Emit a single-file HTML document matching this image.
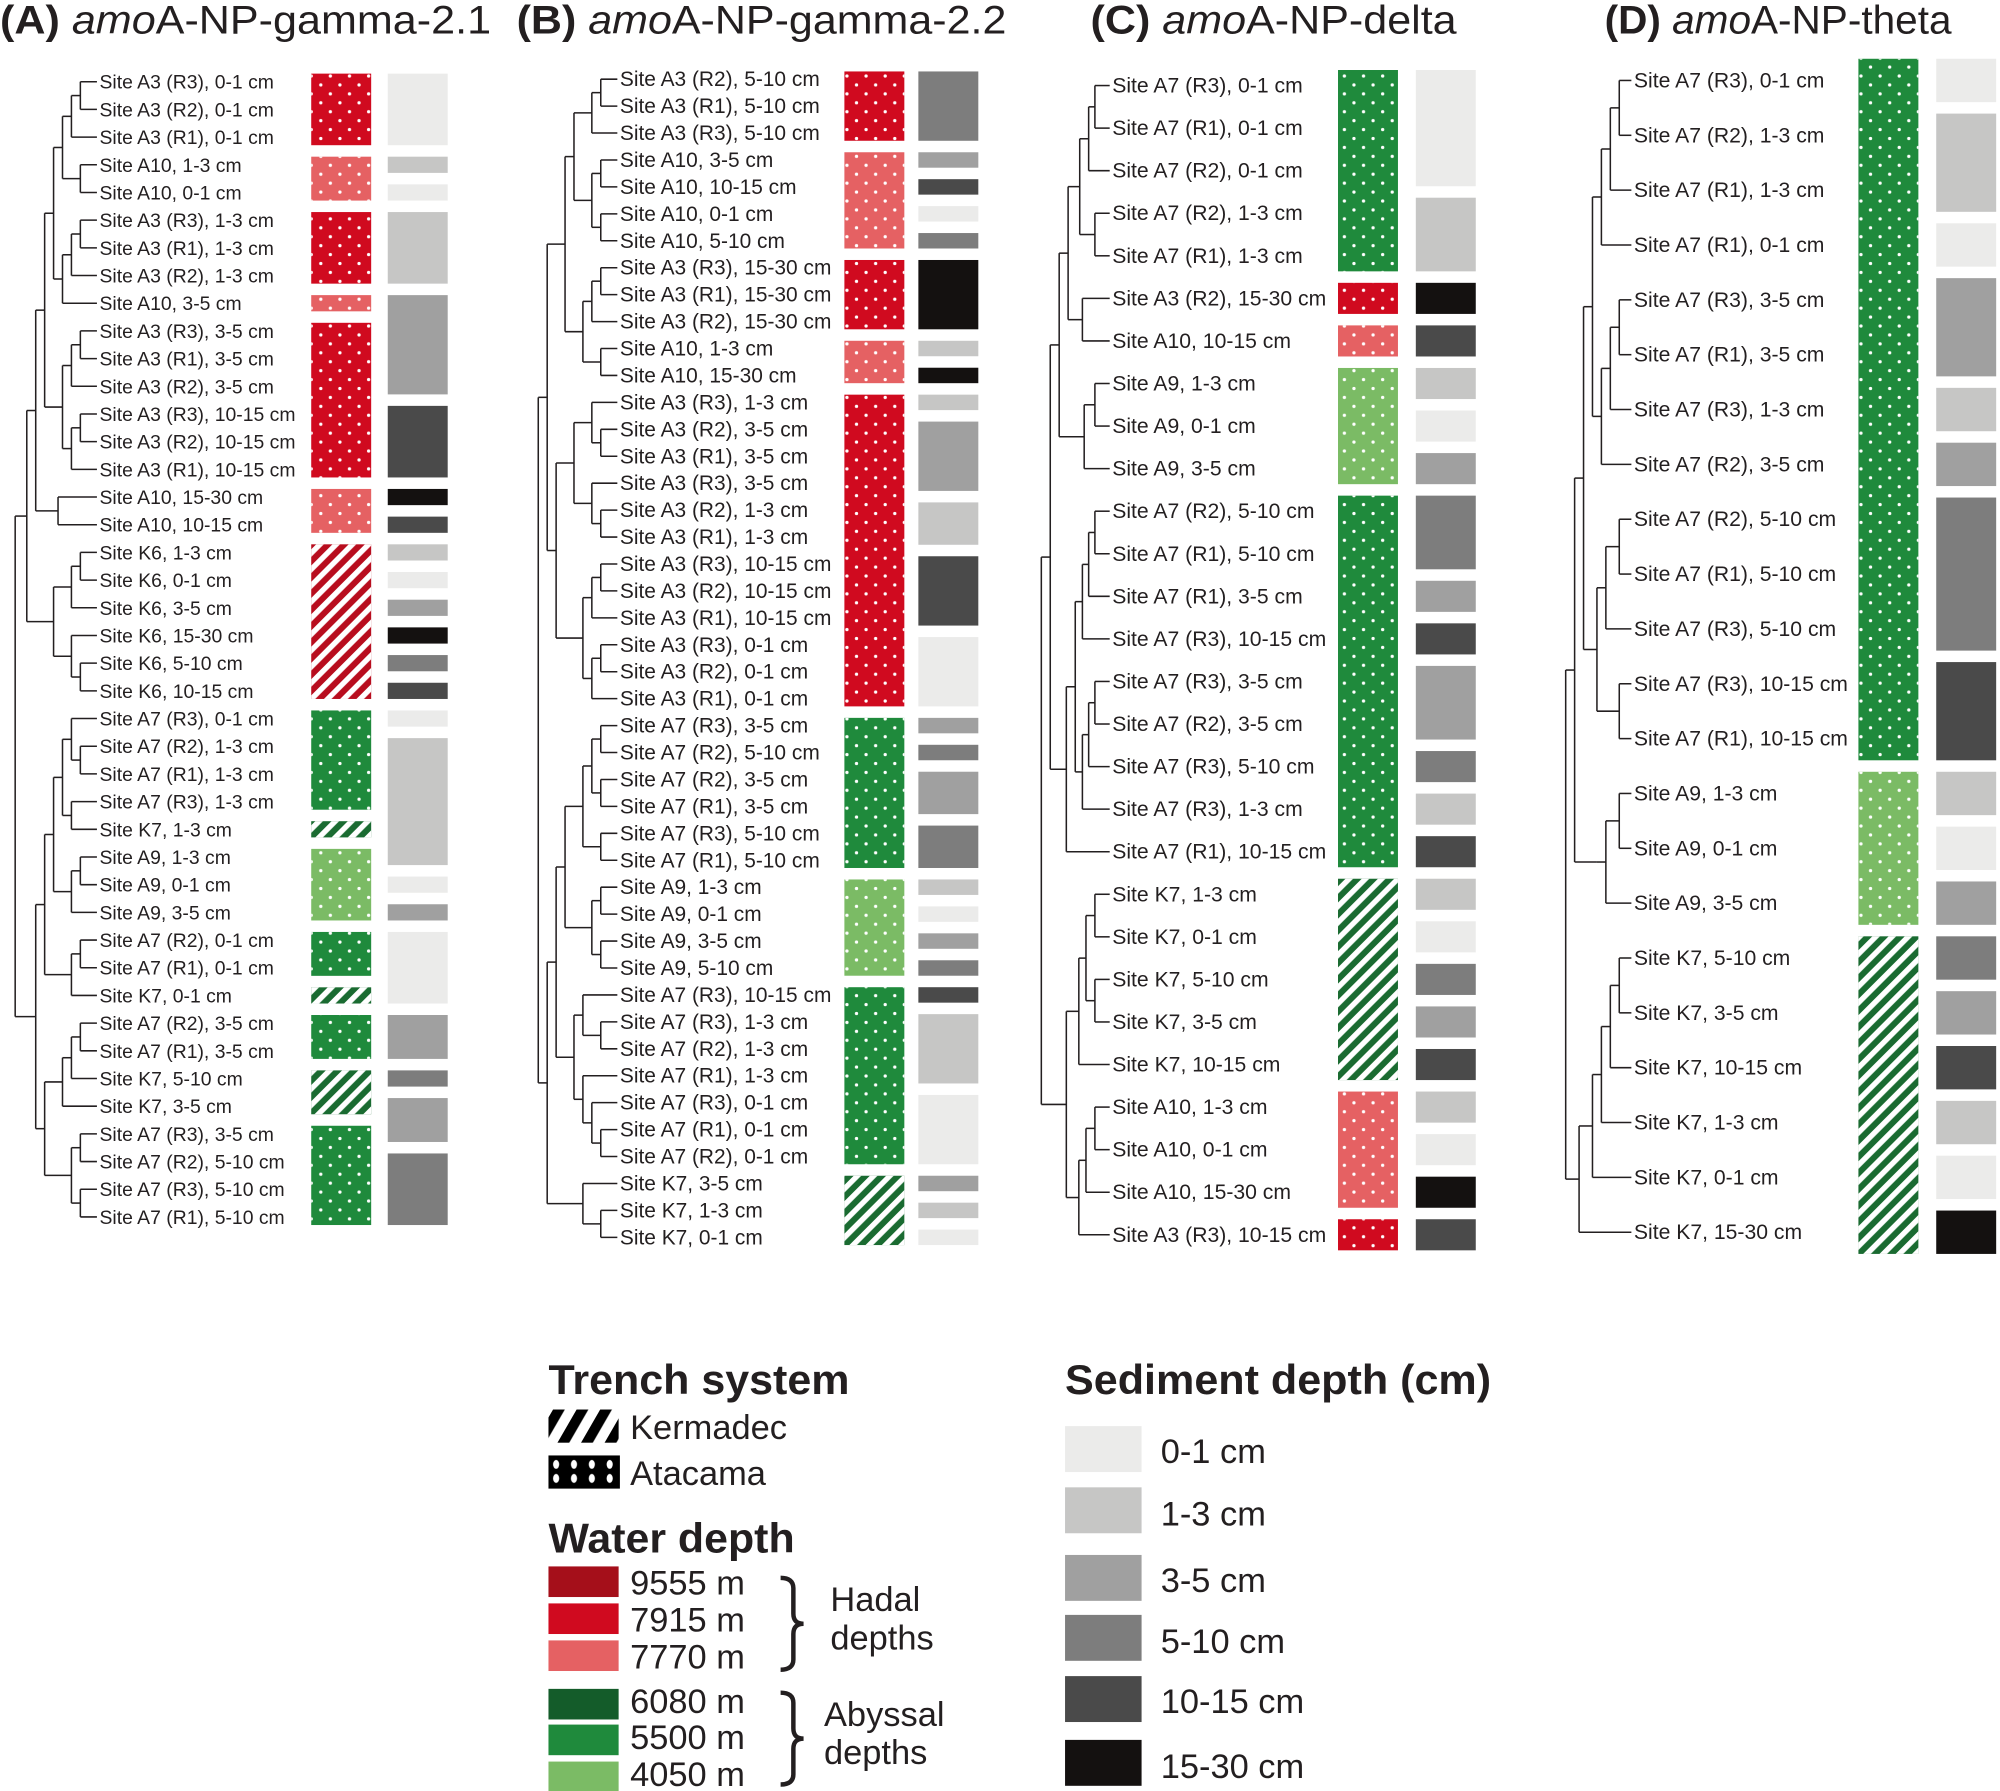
<!DOCTYPE html>
<html><head><meta charset="utf-8"><style>
html,body{margin:0;padding:0;background:#fff}
svg{display:block}
</style></head><body>
<svg id="s" width="2000" height="1791" viewBox="0 0 1568 1404" xmlns="http://www.w3.org/2000/svg" font-family="Liberation Sans, sans-serif">
<defs>
<pattern id="dots" width="15" height="14" patternUnits="userSpaceOnUse">
<circle cx="4" cy="3.5" r="1.3" fill="#fff"/><circle cx="11.5" cy="10.5" r="1.3" fill="#fff"/>
</pattern>
<pattern id="hatch" width="9" height="9" patternUnits="userSpaceOnUse" patternTransform="rotate(45)">
<rect x="0" y="0" width="4.2" height="9" fill="#fff"/>
</pattern>
<pattern id="bdots" width="14" height="26" patternUnits="userSpaceOnUse" x="430" y="1141">
<ellipse cx="6" cy="7" rx="2.4" ry="3.5" fill="#fff"/><ellipse cx="6" cy="18" rx="2.4" ry="3.5" fill="#fff"/>
</pattern>
<pattern id="bhatch" width="16" height="16" patternUnits="userSpaceOnUse" patternTransform="rotate(30)">
<rect x="0" y="0" width="8" height="16" fill="#000"/>
</pattern>
</defs>
<g id="g"></g>
<text x="0" y="26" font-size="31" fill="#231f20" textLength="385" lengthAdjust="spacingAndGlyphs"><tspan font-weight="bold">(A) </tspan><tspan font-style="italic">amo</tspan>A-NP-gamma-2.1</text>
<text x="405" y="26" font-size="31" fill="#231f20" textLength="384" lengthAdjust="spacingAndGlyphs"><tspan font-weight="bold">(B) </tspan><tspan font-style="italic">amo</tspan>A-NP-gamma-2.2</text>
<text x="855" y="26" font-size="31" fill="#231f20" textLength="287" lengthAdjust="spacingAndGlyphs"><tspan font-weight="bold">(C) </tspan><tspan font-style="italic">amo</tspan>A-NP-delta</text>
<text x="1258" y="26" font-size="31" fill="#231f20" textLength="272" lengthAdjust="spacingAndGlyphs"><tspan font-weight="bold">(D) </tspan><tspan font-style="italic">amo</tspan>A-NP-theta</text>
<g fill="#231f20" font-family="Liberation Sans Narrow, Liberation Sans, sans-serif">
<text x="430" y="1093" font-size="33" font-weight="bold" textLength="236" lengthAdjust="spacingAndGlyphs">Trench system</text>
<rect x="430" y="1105" width="55" height="26" fill="url(#bhatch)"/>
<text x="494" y="1128" font-size="27">Kermadec</text>
<rect x="430" y="1141" width="56" height="26" fill="#000"/>
<rect x="430" y="1141" width="56" height="26" fill="url(#bdots)"/>
<text x="494" y="1164" font-size="27">Atacama</text>
<text x="430" y="1217" font-size="33" font-weight="bold" textLength="193" lengthAdjust="spacingAndGlyphs">Water depth</text>
<rect x="430" y="1228" width="55" height="24" fill="#a50f1a"/>
<rect x="430" y="1257" width="55" height="24" fill="#d00a1f"/>
<rect x="430" y="1286" width="55" height="24" fill="#e56163"/>
<rect x="430" y="1324" width="55" height="24" fill="#145c2a"/>
<rect x="430" y="1352" width="55" height="24" fill="#1f8a3c"/>
<rect x="430" y="1381" width="55" height="24" fill="#7bbb65"/>
<text x="494" y="1250" font-size="27">9555 m</text>
<text x="494" y="1279" font-size="27">7915 m</text>
<text x="494" y="1308" font-size="27">7770 m</text>
<text x="494" y="1343" font-size="27">6080 m</text>
<text x="494" y="1371" font-size="27">5500 m</text>
<text x="494" y="1400" font-size="27">4050 m</text>
<path d="M612 1237 q10 0 10 8 v20 q0 8 8 8 q-8 0 -8 8 v20 q0 8 -10 8" fill="none" stroke="#231f20" stroke-width="3.5"/>
<path d="M612 1327 q10 0 10 8 v20 q0 8 8 8 q-8 0 -8 8 v20 q0 8 -10 8" fill="none" stroke="#231f20" stroke-width="3.5"/>
<text x="651" y="1263" font-size="27">Hadal</text>
<text x="651" y="1293" font-size="27">depths</text>
<text x="646" y="1353" font-size="27">Abyssal</text>
<text x="646" y="1383" font-size="27">depths</text>
<text x="835" y="1093" font-size="33" font-weight="bold" textLength="334" lengthAdjust="spacingAndGlyphs">Sediment depth (cm)</text>
<rect x="835" y="1118" width="60" height="36" fill="#ebebea"/>
<rect x="835" y="1166" width="60" height="36" fill="#c6c6c5"/>
<rect x="835" y="1219" width="60" height="36" fill="#a0a0a0"/>
<rect x="835" y="1266" width="60" height="36" fill="#7d7d7d"/>
<rect x="835" y="1314" width="60" height="36" fill="#4a4a4a"/>
<rect x="835" y="1364" width="60" height="36" fill="#141110"/>
<text x="910" y="1147" font-size="27">0-1 cm</text>
<text x="910" y="1196" font-size="27">1-3 cm</text>
<text x="910" y="1248" font-size="27">3-5 cm</text>
<text x="910" y="1296" font-size="27">5-10 cm</text>
<text x="910" y="1343" font-size="27">10-15 cm</text>
<text x="910" y="1394" font-size="27">15-30 cm</text>
</g>
</svg>
<script>
const S={A3:["#d00a1f","dots"],A10:["#e56163","dots"],K6:["#b80d1e","hatch"],A7:["#1f8a3c","dots"],A9:["#7bbb65","dots"],K7:["#1a6b31","hatch"]};
const D={"0-1 cm":"#ebebea","1-3 cm":"#c6c6c5","3-5 cm":"#a0a0a0","5-10 cm":"#7d7d7d","10-15 cm":"#4a4a4a","15-30 cm":"#141110"};
const P=[
{lx:78,y0:64,y1:954,cx:244,gx:304,step:7,fs:15.2,rows:["Site A3 (R3), 0-1 cm","Site A3 (R2), 0-1 cm","Site A3 (R1), 0-1 cm","Site A10, 1-3 cm","Site A10, 0-1 cm","Site A3 (R3), 1-3 cm","Site A3 (R1), 1-3 cm","Site A3 (R2), 1-3 cm","Site A10, 3-5 cm","Site A3 (R3), 3-5 cm","Site A3 (R1), 3-5 cm","Site A3 (R2), 3-5 cm","Site A3 (R3), 10-15 cm","Site A3 (R2), 10-15 cm","Site A3 (R1), 10-15 cm","Site A10, 15-30 cm","Site A10, 10-15 cm","Site K6, 1-3 cm","Site K6, 0-1 cm","Site K6, 3-5 cm","Site K6, 15-30 cm","Site K6, 5-10 cm","Site K6, 10-15 cm","Site A7 (R3), 0-1 cm","Site A7 (R2), 1-3 cm","Site A7 (R1), 1-3 cm","Site A7 (R3), 1-3 cm","Site K7, 1-3 cm","Site A9, 1-3 cm","Site A9, 0-1 cm","Site A9, 3-5 cm","Site A7 (R2), 0-1 cm","Site A7 (R1), 0-1 cm","Site K7, 0-1 cm","Site A7 (R2), 3-5 cm","Site A7 (R1), 3-5 cm","Site K7, 5-10 cm","Site K7, 3-5 cm","Site A7 (R3), 3-5 cm","Site A7 (R2), 5-10 cm","Site A7 (R3), 5-10 cm","Site A7 (R1), 5-10 cm"],
tree:[8.3,[7,[6,[5,[4,[3,[2,[1,0,1],2],[1,3,4]],[3,[2,[1,5,6],7],8]],[3,[2,[1,9,10],11],[2,[1,12,13],14]]],[3.5,15,16]],[4,[2,[1,17,18],19],[2,20,[1,21,22]]]],[6,[5,[4,[3,[2,23,[1,24,25]],[2,26,27]],[2,[1,28,29],30]],[2,[1,31,32],33]],[5,[3,[2,[1,34,35],36],37],[2,[1,38,39],[1,40,41]]]]]},
{lx:486,y0:62,y1:970,cx:662,gx:720,step:7,fs:16.4,rows:["Site A3 (R2), 5-10 cm","Site A3 (R1), 5-10 cm","Site A3 (R3), 5-10 cm","Site A10, 3-5 cm","Site A10, 10-15 cm","Site A10, 0-1 cm","Site A10, 5-10 cm","Site A3 (R3), 15-30 cm","Site A3 (R1), 15-30 cm","Site A3 (R2), 15-30 cm","Site A10, 1-3 cm","Site A10, 15-30 cm","Site A3 (R3), 1-3 cm","Site A3 (R2), 3-5 cm","Site A3 (R1), 3-5 cm","Site A3 (R3), 3-5 cm","Site A3 (R2), 1-3 cm","Site A3 (R1), 1-3 cm","Site A3 (R3), 10-15 cm","Site A3 (R2), 10-15 cm","Site A3 (R1), 10-15 cm","Site A3 (R3), 0-1 cm","Site A3 (R2), 0-1 cm","Site A3 (R1), 0-1 cm","Site A7 (R3), 3-5 cm","Site A7 (R2), 5-10 cm","Site A7 (R2), 3-5 cm","Site A7 (R1), 3-5 cm","Site A7 (R3), 5-10 cm","Site A7 (R1), 5-10 cm","Site A9, 1-3 cm","Site A9, 0-1 cm","Site A9, 3-5 cm","Site A9, 5-10 cm","Site A7 (R3), 10-15 cm","Site A7 (R3), 1-3 cm","Site A7 (R2), 1-3 cm","Site A7 (R1), 1-3 cm","Site A7 (R3), 0-1 cm","Site A7 (R1), 0-1 cm","Site A7 (R2), 0-1 cm","Site K7, 3-5 cm","Site K7, 1-3 cm","Site K7, 0-1 cm"],
tree:[8,[7,[5,[4,[2,[1,0,1],2],[2,[1,3,4],[1,5,6]]],[3,[2,[1,7,8],9],[1,10,11]]],[6,[4,[2,12,[1,13,14]],[2,15,[1,16,17]]],[3,[2,[1,18,19],20],[2,[1,21,22],23]]]],[7,[6,[5,[3,[2,[1,24,25],[1,26,27]],[1,28,29]],[2,[1,30,31],[1,32,33]]],[4,[3,34,[1,35,36]],[3,37,[2,38,[1,39,40]]]]],[3,41,[1,42,43]]]]},
{lx:872,y0:67,y1:968,cx:1049,gx:1110,step:7,fs:16.6,rows:["Site A7 (R3), 0-1 cm","Site A7 (R1), 0-1 cm","Site A7 (R2), 0-1 cm","Site A7 (R2), 1-3 cm","Site A7 (R1), 1-3 cm","Site A3 (R2), 15-30 cm","Site A10, 10-15 cm","Site A9, 1-3 cm","Site A9, 0-1 cm","Site A9, 3-5 cm","Site A7 (R2), 5-10 cm","Site A7 (R1), 5-10 cm","Site A7 (R1), 3-5 cm","Site A7 (R3), 10-15 cm","Site A7 (R3), 3-5 cm","Site A7 (R2), 3-5 cm","Site A7 (R3), 5-10 cm","Site A7 (R3), 1-3 cm","Site A7 (R1), 10-15 cm","Site K7, 1-3 cm","Site K7, 0-1 cm","Site K7, 5-10 cm","Site K7, 3-5 cm","Site K7, 10-15 cm","Site A10, 1-3 cm","Site A10, 0-1 cm","Site A10, 15-30 cm","Site A3 (R3), 10-15 cm"],
tree:[6.8,[5.8,[4.8,[3.8,[2.5,[1.5,[0.8,0,1],2],[0.8,3,4]],[2.2,5,6]],[2,[0.8,7,8],9]],[4,[3,[2.2,[1.5,[0.8,10,11],12],13],[2.2,[1.5,[0.8,14,15],16],17]],18]],[4,[2.6,[1.8,[0.8,19,20],[0.8,21,22]],23],[2.6,[1.8,[0.8,24,25],26],27]]]},
{lx:1281,y0:63,y1:966,cx:1457,gx:1518,step:7,fs:16.6,rows:["Site A7 (R3), 0-1 cm","Site A7 (R2), 1-3 cm","Site A7 (R1), 1-3 cm","Site A7 (R1), 0-1 cm","Site A7 (R3), 3-5 cm","Site A7 (R1), 3-5 cm","Site A7 (R3), 1-3 cm","Site A7 (R2), 3-5 cm","Site A7 (R2), 5-10 cm","Site A7 (R1), 5-10 cm","Site A7 (R3), 5-10 cm","Site A7 (R3), 10-15 cm","Site A7 (R1), 10-15 cm","Site A9, 1-3 cm","Site A9, 0-1 cm","Site A9, 3-5 cm","Site K7, 5-10 cm","Site K7, 3-5 cm","Site K7, 10-15 cm","Site K7, 1-3 cm","Site K7, 0-1 cm","Site K7, 15-30 cm"],
tree:[6.5,[5.5,[4.5,[3.5,[2.5,[1.5,[0.5,0,1],2],3],[2.5,[1.5,[0.5,4,5],6],7]],[3,[2,[0.5,8,9],10],[0.5,11,12]]],[3,[2,[0.5,13,14],15]]],[5,[3.5,[2.5,[1.5,[0.5,16,17],18],19],20],21]]}
];
let out="";
const L=(x1,y1,x2,y2)=>out+=`<line x1="${x1}" y1="${y1}" x2="${x2}" y2="${y2}" stroke="#231f20" stroke-width="1.2"/>`;
for(const p of P){
  const n=p.rows.length, s=(p.y1-p.y0)/(n-1), yc=i=>p.y0+i*s, g=4.5;
  p.rows.forEach((r,i)=>{out+=`<text x="${p.lx}" y="${yc(i)+5.5}" font-size="${p.fs}" fill="#231f20">${r}</text>`;});
  const site=r=>r.match(/Site (\w+)/)[1], dep=r=>r.split(", ")[1];
  const blocks=(key,x,fillf)=>{let i=0;while(i<n){let j=i;while(j+1<n&&key(p.rows[j+1])==key(p.rows[i]))j++;
    const ya=yc(i)-s/2+g, yb=yc(j)+s/2-g; fillf(x,ya,yb-ya,key(p.rows[i]));i=j+1;}};
  blocks(site,p.cx,(x,y,h,k)=>{const c=S[k];out+=`<rect x="${x}" y="${y}" width="47" height="${h}" fill="${c[0]}"/><rect x="${x}" y="${y}" width="47" height="${h}" fill="url(#${c[1]})"/>`;});
  blocks(dep,p.gx,(x,y,h,k)=>{out+=`<rect x="${x}" y="${y}" width="47" height="${h}" fill="${D[k]}"/>`;});
  const X=lv=>p.lx-8-p.step*lv;
  function dr(nd){
    if(typeof nd==="number") return {y:yc(nd),x:p.lx-2};
    const x=X(nd[0]); const ys=[];
    for(let k=1;k<nd.length;k++){const c=dr(nd[k]);L(x,c.y,c.x,c.y);ys.push(c.y);}
    const a=Math.min(...ys),b=Math.max(...ys);L(x,a,x,b);
    return {y:(a+b)/2,x:x};
  }
  dr(p.tree);
}
document.getElementById("g").innerHTML=out;
</script>
</body></html>
